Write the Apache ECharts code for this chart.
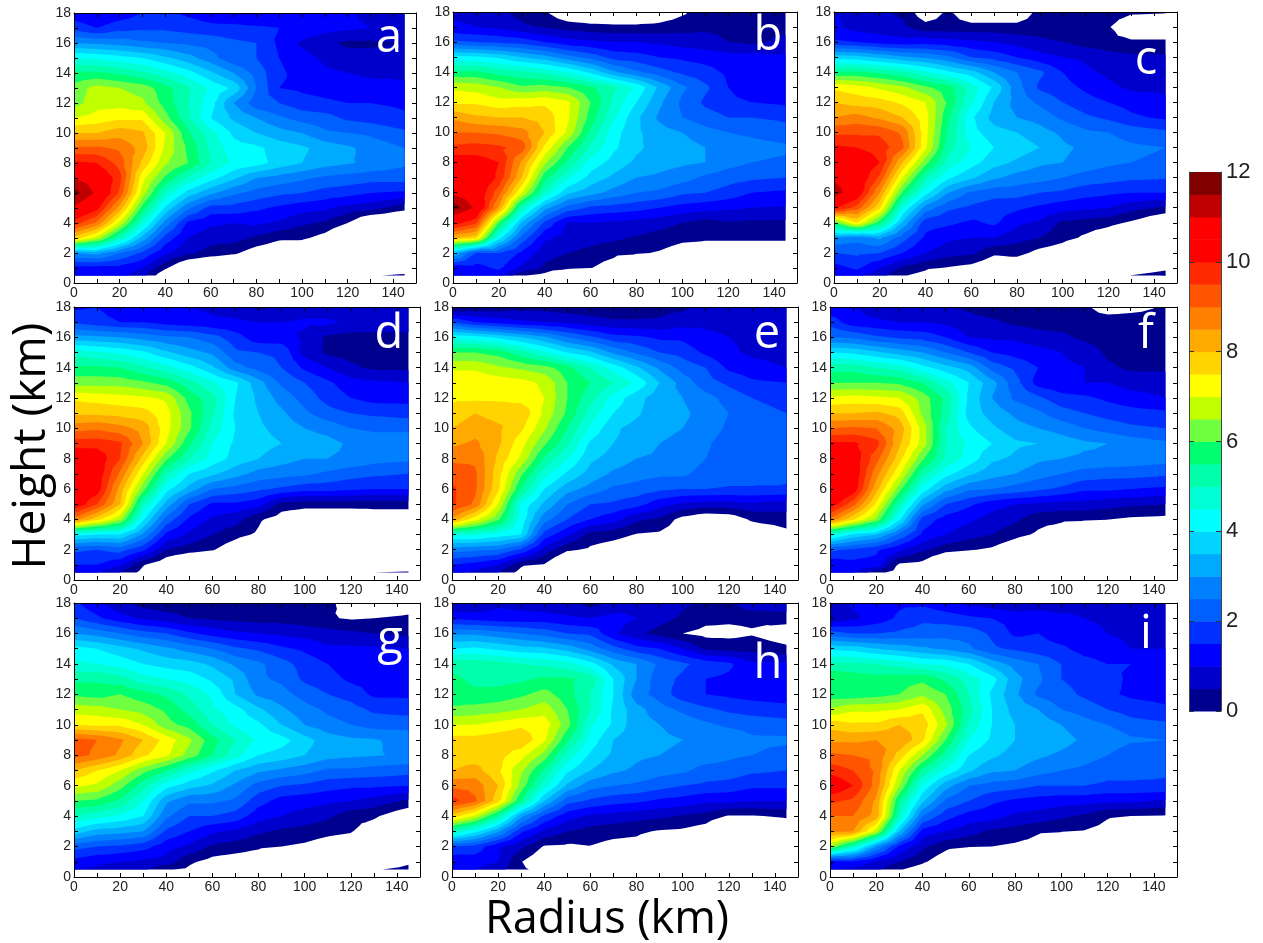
<!DOCTYPE html>
<html><head><meta charset="utf-8">
<style>html,body{margin:0;padding:0;background:#fff}#c{width:1263px;height:943px}</style>
<script src="https://cdn.jsdelivr.net/npm/echarts@6/dist/echarts.min.js"></script>
</head><body><div id="c"></div>
<script>
const radii=[0,10,20,30,40,50,60,70,80,90,100,110,120,130,145];
const heights=[18,17,16,15,14,13,12,11,10,9,8,7,6,5,4,3,2,1,0.5];
const xTicks=[0,10,20,30,40,50,60,70,80,90,100,110,120,130,140,150];
const xLabels=[0,20,40,60,80,100,120,140];
const yTicks=[0,1,2,3,4,5,6,7,8,9,10,11,12,13,14,15,16,17,18];
const yLabels=[0,2,4,6,8,10,12,14,16,18];
const barLabels=[0,2,4,6,8,10,12];
const levels=[0,.5,1,1.5,2,2.5,3,3.5,4,4.5,5,5.5,6,6.5,7,7.5,8,8.5,9,9.5,10,10.5,11,11.5];
const colors=['#00008f','#0000cc','#0000ff','#0030ff','#0060ff','#0080ff','#00aaff','#00d4ff','#00ffff','#00ffd4','#00ffaa','#00ff70','#70ff40','#bfff00','#ffff00','#ffd400','#ffaa00','#ff8000','#ff5500','#ff2a00','#ff0000','#ff0000','#c00000','#800000'];
const panelA=[
[1.2,1.0,1.2,1.5,1.6,1.4,1.1,.9,.9,1,1,1.1,1.1,.8,.8],
[1.8,1.5,1.8,1.9,1.9,1.8,1.7,1.7,1.6,1.5,1.4,1.2,1.1,1,1],
[3,2.9,2.8,2.6,2.5,2.4,2.3,2.1,2.0,1.4,.9,.6,.4,.4,.5],
[4.5,4.4,4.2,4,3.6,3.2,2.7,2.1,2,1.5,1.2,.9,.7,.7,.7],
[5.6,5.6,5.4,5.1,4.7,4.2,3.6,3,2.3,1.6,1.3,1.1,1,.9,.9],
[6.2,6.7,6.5,6.3,5.7,5.1,4.4,3.9,2.5,1.5,1.4,1.3,1.2,1.2,1.1],
[6.3,6.8,6.8,6.6,5.8,5,4.2,3,2.2,2,1.7,1.6,1.5,1.5,1.4],
[7,7.2,7.4,7.4,6.2,5.1,4,3.4,3,2.6,2.3,2.2,1.9,1.8,1.6],
[8,8,8.3,8.1,7,5.6,4.7,3.9,3.5,3.2,3,2.6,2.5,2.4,2.1],
[9.1,9.1,8.9,8.3,6.9,5.9,4.9,4.2,4.1,3.8,3.6,3.3,3.1,2.8,2.5],
[10.1,10,9.3,7.9,6.6,6,5,4.4,4.2,3.8,3.5,3.2,3.05,2.9,2.6],
[11,10.7,9.7,7.2,5.9,4.9,4.2,3.6,3,2.8,2.6,2.4,2.3,2.2,2.2],
[11.7,10.9,9.4,6.8,4.9,3.8,3.1,2.6,2.3,2.1,2,1.8,1.7,1.5,1.4],
[10.9,10.2,8.3,5.8,3.9,2.6,1.8,1.8,1.6,1.4,1.2,1.1,.8,.7,.2],
[9.8,8.9,6.9,4.7,2.8,1.4,1.1,1,1.1,.9,.6,.4,0,-.8,-1],
[7.8,6.8,5,3.3,1.8,1,.7,.7,.4,.1,.1,-.2,-.8,-1,-1],
[3,3.2,2.5,1.9,1.1,.6,.3,.1,-.3,-.5,-.7,-1,-1,-1,-1],
[1.3,1.3,1.3,1,.1,-.8,-1,-1,-1,-1,-1,-1,-1,-1,-.8],
[1.2,1.2,1.2,.7,-.5,-1,-1,-1,-1,-1,-1,-1,-1,-.1,.2]];
const panelB=[
[.9,.8,.6,.3,.05,-.5,-.7,-.7,-.7,-.5,-.1,.3,.4,.4,.4],
[1.1,1,.9,.6,.45,.3,.2,.15,.15,.2,.3,.4,.4,.4,.4],
[2.1,2,1.9,1.8,1.5,1.2,1.1,1,1,.9,.8,.7,.5,.4,.6],
[4.2,4.1,3.9,3.5,3.2,2.7,2.3,1.8,1.7,1.5,1.4,1.3,1.2,1.2,1.1],
[5.6,5.6,5.3,5.1,4.9,4.5,3.9,3.1,2.6,2.2,1.9,1.7,1.4,1.3,1.3],
[6.9,6.8,6.5,6.1,6.2,6,5.6,5.1,4.4,3.4,2.6,2.1,1.5,1,1],
[7.4,7.4,7.2,7.3,7.4,7.1,6,4.9,4,3.1,2.4,1.9,1.7,1.5,1.4],
[8.4,8.1,8,8,7.8,7.1,5.8,4.6,3.6,2.9,2.5,2.2,2,2,1.9],
[9,9,8.9,8.7,8,6.9,5.4,4.2,3.6,3.2,3,2.7,2.5,2.4,2.2],
[9.6,9.7,9.6,9.3,7.4,6,4.9,4.1,3.6,3.3,3.2,3,2.8,2.7,2.6],
[10.4,10.3,10,8.4,6.6,5.4,4.3,3.8,3.4,3.2,3.1,3,2.7,2.5,2.4],
[10.7,10.6,9.9,8,5.7,4.6,3.8,3.4,3,2.9,2.7,2.4,2.2,2.1,2],
[10.9,10.6,9.2,7,4.9,3.6,3.2,2.8,2.5,2.4,2.1,2,1.8,1.5,1.4],
[11.8,10.9,8.4,5,3.2,2.3,1.9,1.8,1.7,1.5,1.3,1.2,1.1,1,.95],
[10.3,9.6,6,3.4,1.9,.95,1,.9,.8,.7,.5,.3,.45,.4,.4],
[8.1,7.7,4.2,2.3,1.1,.8,.7,.6,.45,.3,.15,.1,.1,.1,.1],
[3.5,2,2,1.4,.7,.5,.35,.15,.07,-.05,-.3,-.4,-.4,-.4,-.4],
[1.2,1.3,1.6,.9,.4,.15,.02,-.3,-1,-1,-1,-1,-1,-1,-1],
[1.1,1.2,1.2,.05,-.2,-1,-1,-1,-1,-1,-1,-1,-1,-1,-1]];
const panelC=[
[1,.9,.6,.4,-.4,.1,-.5,-.5,-.5,.2,.3,.3,.3,.1,.05],
[1.1,.8,.7,.6,.2,.2,.2,.2,.2,.3,.2,.2,.05,-.5,-.5],
[1.6,1.5,1.3,1.2,1.3,1.2,1.1,1,.8,.6,.5,.3,.2,.1,.1],
[3.8,3.7,3.4,3.1,2.9,2.6,2,1.8,1.5,1.2,1,.9,.7,.6,.6],
[5.6,5.6,5.4,5.1,4.6,4.1,3.7,3,2.5,2.1,1.5,1.1,.9,.8,.8],
[7.4,7.2,6.9,6.6,6.1,5.7,4.8,3.9,2.7,1.9,1.7,1.4,1.1,.9,.9],
[8,7.8,7.7,7.4,7,5.9,4.6,3.5,2.8,2.4,2,1.7,1.5,1.3,1.1],
[8.5,8.7,8.4,8,7.2,5.6,4.1,3.3,3,2.8,2.4,2.1,1.9,1.6,1.4],
[9.4,9.4,9.4,8.9,7.2,5.4,4.2,3.7,3.5,3.2,2.9,2.6,2.5,2.3,2.1],
[10.1,10,9.8,9.1,7.1,5.2,4.5,4,3.8,3.5,3.1,2.9,2.7,2.6,2.5],
[10.4,10.5,10,8,6.2,4.8,4.2,3.7,3.4,3.1,3,2.8,2.6,2.5,2.4],
[10.9,10.6,9.4,7,5.1,4.1,3.6,3.1,2.8,2.7,2.5,2.3,2.2,2.1,2.05],
[11.3,10.5,8.5,5.9,4.2,3,2.4,2.2,2.2,2,1.9,1.7,1.6,1.5,1.5],
[10.1,9.3,7.6,4.5,2.8,2.1,1.9,1.7,1.6,1.4,1.2,1.1,1,.7,.4],
[6,7.5,5.7,3.4,1.7,1.6,1.4,1.6,1.1,.9,.4,.3,.2,-.1,-.7],
[2.9,2.7,3.1,2.2,1.4,1.1,1,1,.7,.5,.2,-.1,-.5,-1,-1],
[2,2.1,2,1.5,1,.7,.6,.1,.2,-.2,-.4,-1,-1,-1,-1],
[1.3,1.6,1,.4,.1,-.05,-.2,-.5,-.6,-1,-1,-1,-1,-1,-.3],
[1.1,1.1,.7,.05,-.2,-1,-1,-1,-1,-1,-1,-1,-.3,.02,.6]];
const panelD=[
[1.4,1.5,1.2,1,1,1,.9,.7,.4,.5,.7,.7,.6,.5,.5],
[1.9,1.7,1.5,1.5,1.3,1.2,1.1,1.1,1,1,1.1,1.1,.9,.9,.9],
[3.2,3.1,3,2.8,2.6,2.5,2.2,1.7,1.2,1.2,.9,.4,.3,.3,.3],
[4.8,4.6,4.4,4.1,3.6,3.2,2.9,2.1,2,1.9,.8,.4,.3,.3,.3],
[5.6,5.6,5.5,5.1,4.7,4.2,3.6,2.7,2.3,2,1.4,1,.6,.4,.4],
[6.3,6.3,6.3,6.1,5.8,5.2,4.6,4.1,3.2,2.4,2,1.6,1.2,1.1,1],
[7.4,7.3,7.2,7.1,6.9,5.8,5.2,4,3.4,2.8,2.3,1.8,1.5,1.3,1.3],
[7.9,7.9,7.8,7.7,7.2,6.1,5.1,3.9,3.5,3.1,2.6,2.2,2,1.9,1.8],
[8.8,8.9,8.7,8.3,7.2,6.1,4.8,4,3.6,3.3,3,2.8,2.5,2.4,2.4],
[9.8,9.8,9.6,8.5,7,5.6,4.5,3.9,3.7,3.5,3.3,3.2,2.9,2.8,2.8],
[10.5,10.4,9.5,7.8,6.1,5,4.3,3.8,3.5,3.2,3,3,2.9,2.7,2.6],
[10.7,10.4,8.9,7,5.1,4,3.6,3.2,2.8,2.7,2.6,2.4,2.2,2.1,2],
[10.7,10.3,8.3,6.2,4.2,3.3,2.5,2.3,2.1,1.9,1.7,1.7,1.6,1.5,1.5],
[10.5,9.5,8,5,3.3,2,1.4,1.4,1.2,.3,.2,.2,.2,.2,.2],
[8.8,7.7,6.6,4.1,2.3,1.4,.9,.7,.1,-.3,-.5,-.5,-.5,-.4,-.4],
[4.2,4,4,2.9,1.4,.9,.5,.2,-.1,-.8,-1,-1,-1,-1,-1],
[2.1,2,2.2,1.6,.5,.25,.05,-.4,-1,-1,-1,-1,-1,-1,-1],
[1.5,1.5,1.1,.05,-.5,-1,-1,-1,-1,-1,-1,-1,-1,-.8,-.8],
[1.1,1,.5,-.2,-1,-1,-1,-1,-1,-1,-1,-1,-1,0,.1]];
const panelE=[
[-.1,.1,.2,.3,.3,.2,.2,.1,.1,.3,.4,.6,.7,.7,.7],
[2,1.5,1.3,1.1,1,.9,.7,.6,.6,.6,.8,.9,.9,.9,.9],
[4.4,4.2,3.9,3.5,3.1,2.5,2.1,1.7,1.6,1.4,1.4,1.1,1,.9,.9],
[6,6,5.8,5.2,4.6,4,3.6,2.9,2.4,2,1.8,1.4,1.1,.9,.8],
[6.9,6.9,6.6,6.4,6.2,5.7,5,4.3,3.6,2.9,2.3,2,1.4,1.2,1],
[7.5,7.4,7.3,7.2,6.9,6,5.5,5,4.4,3.5,2.8,2.2,1.9,1.6,1.5],
[7.4,7.4,7.4,7.3,7,6,5.2,4.3,3.7,3.2,3,2.7,2.3,2,1.9],
[7.7,8,7.8,7.9,6.9,5.9,4.8,4,3.6,3.1,3.1,2.8,2.5,2.1,2],
[8,8.3,8.1,7.6,6.6,5.5,4.4,3.6,3.3,3.1,3,2.8,2.4,2.2,2.1],
[8.4,8.6,8.1,7.2,6.1,5.1,3.9,3.5,3.3,3,2.9,2.6,2.2,2.2,2.1],
[8.9,8.9,7.9,6.9,5.4,4.5,3.6,3.3,3,2.9,2.8,2.5,2.2,2.1,2.1],
[9.3,9.1,7.7,6.1,4.7,3.9,3.3,2.9,2.7,2.6,2.6,2.3,2.2,2.2,2.1],
[9.6,9.1,7.6,5.5,4,3.2,2.8,2.4,2.3,2.1,2,2,1.95,1.95,1.95],
[9.6,8.9,7,4.4,3.4,2.5,2,1.9,1.7,1.2,.9,.8,.8,.9,.7],
[8.4,7.2,6.1,4.3,2.7,2,1.5,1.2,.6,.4,-.2,-.5,-.4,.1,.3],
[4.6,4.6,4.3,4,1.8,1.1,.3,.2,-.03,-.1,-.4,-.9,-.9,-.6,-.2],
[2.7,2.6,2.5,1.9,.8,.1,-.1,-.3,-.5,-1,-1,-1,-1,-1,-1],
[1.5,1.3,1,.1,-.05,-1,-1,-1,-1,-1,-1,-1,-1,-1,-1],
[1.1,.9,.5,-.2,-1,-1,-1,-1,-1,-1,-1,-1,-1,-1,-1]];
const panelF=[
[1.1,1,.7,.6,.5,.5,.4,.2,.1,.1,.1,.1,-.3,-.2,.05],
[1.8,1.2,1.1,1,1,.9,.7,.6,.4,.3,.3,.3,.3,.3,.3],
[2.5,2.4,2.1,1.9,1.8,1.5,1,.9,.9,.7,.6,.4,.3,.2,.2],
[4,3.9,3.6,3.3,3,2.5,2,1.5,1.3,1.2,1,.8,.4,.3,.3],
[5.3,5.3,5,4.8,4.2,3.7,3.3,2.3,1.9,1.5,1.1,1,.6,.4,.4],
[6,6,6,5.9,5.5,4.7,4,3.2,2.2,1.3,1.1,1,1,.8,.8],
[7.1,7.2,7.1,7,6.3,5.4,3.9,3,2.4,2.1,1.7,1.6,1.4,1.2,1],
[8,8,8.1,7.8,6.4,5.3,3.8,3.3,2.9,2.6,2.2,2,1.8,1.7,1.6],
[9,9.1,9,8.3,6.8,5,4.1,3.6,3.2,3,2.8,2.5,2.3,2.1,2],
[10.1,10.1,9.7,8.1,6.8,5,4.4,4,3.6,3.5,3.3,3.1,3,2.8,2.6],
[10.6,10.4,9.2,7.7,6.1,4.9,4.3,3.6,3.4,3.1,3,2.9,2.9,2.8,2.7],
[10.6,10.5,8.7,7.1,5.2,4.2,3.6,3.2,3,2.7,2.5,2.3,2.2,2.2,2.1],
[11,10.4,8.2,6.2,4.3,3.2,2.6,2.5,2.3,2.1,1.9,1.6,1.6,1.5,1.4],
[10.4,9.2,7.4,5.1,3.1,2,1.6,1.2,1,.9,.8,.8,.7,.6,.5],
[8.9,7.6,6.4,4.1,1.8,1.3,1.1,.8,.6,.2,.12,.08,.02,-.1,-.15],
[4.7,3.9,3.5,2.4,1.4,1,.7,.5,.2,-.1,-.4,-1,-1,-1,-1],
[2.1,1.9,1.6,1.1,.6,.2,.05,-.1,-.5,-1,-1,-1,-1,-1,-1],
[1.1,1.3,1.3,-.1,-.2,-1,-1,-1,-1,-1,-1,-1,-1,-1,-1],
[1.1,1,.2,-.3,-1,-1,-1,-1,-1,-1,-1,-1,-1,-1,-1]];
const panelG=[
[1.6,1.1,.6,.3,.2,.2,.1,.1,.1,.1,.05,.1,-.2,-.5,-.3],
[2,1.6,1.2,.9,.7,.5,.4,.35,.3,.3,.2,.05,-.05,0,.1],
[3,2.8,2.5,2.2,2,1.6,1.3,1.1,1,.9,.8,.7,.6,.5,.4],
[4.2,4,3.7,3.4,3.1,2.8,2.5,2.1,1.9,1.6,1.4,1.1,1.1,1.1,1],
[4.6,4.5,4.3,4,3.8,3.7,3.4,2.9,2.6,2.2,1.8,1.5,1.2,1.1,1],
[5.4,5.4,5.2,4.7,4.5,4.3,3.9,3.4,2.6,2.4,1.9,1.7,1.4,1.3,1.2],
[5.9,5.8,6,5.7,5.4,4.9,4.4,3.5,2.9,2.7,2.3,2,1.8,1.4,1.4],
[6.8,6.7,6.5,6.3,5.9,5.3,4.6,4.2,3.6,3.1,2.7,2.4,2.2,1.9,1.8],
[7.5,7.4,7.4,7,6.2,5.8,5,4.4,4.1,3.5,3,2.7,2.5,2.3,2.3],
[9.2,9,8.6,8,7.3,6.6,5.7,5,4.4,4.2,3.7,3.25,3.1,3.05,2.8],
[9.2,8.9,8.4,7.6,7.1,6.3,5.5,4.7,4,3.8,3.5,3.2,3.1,3.05,2.9],
[8,7.5,7,6.2,5.5,4.7,4.1,3.5,3.1,2.9,2.7,2.4,2.4,2.3,2.2],
[7.1,6.9,6.2,5.2,4.2,3.7,3.4,2.9,2.3,2,1.9,1.7,1.6,1.6,1.5],
[6,5.9,5.4,4.5,3.1,2.6,2.6,2.4,1.7,1.3,1.2,1.1,1,.8,.4],
[5,4.7,4.4,4,2.6,2,2,1.8,1.2,1,.8,.6,.2,.1,-.5],
[3.8,3.3,3.2,3,1.9,1.5,1.1,.9,.6,.4,.3,.15,.05,-.4,-1],
[2.2,2,1.9,1.7,1.2,.9,.4,.25,.1,0,-.1,-.3,-.4,-1,-1],
[1.3,1.1,1,.9,.8,.1,-.2,-.3,-.4,-1,-1,-1,-1,-1,-.2],
[1,.9,.7,.6,.05,-.1,-.5,-1,-1,-1,-1,-1,-1,-.1,.3]];
const panelH=[
[.4,.5,.9,.8,.7,.6,.3,.6,.9,.9,.6,.4,.4,.9,.9],
[1.4,1.3,1.2,1.2,1.2,1.1,1,1.2,1,.7,.4,.15,.1,.1,.2],
[2.9,2.9,2.7,2.5,2.3,2,1.9,1.1,.6,.3,0,-.15,-.15,-.05,-.3],
[4,4.1,3.9,3.7,3.6,3.3,2.8,2.2,1.7,1.5,1,.4,.3,.3,.1],
[5.3,5.3,5.2,5,4.9,4.7,4.2,3.4,3,2.4,2.1,1.8,1.6,1.1,1.1],
[5.6,5.4,5.3,5.4,5.6,5.6,5.3,4,3,2.2,1.9,1.5,1.4,1.2,1.2],
[5.7,5.6,5.7,5.9,6.2,5.7,5,4,2.7,2.3,1.7,1.5,1.4,1.3,1.2],
[6.1,6.2,6.3,6.5,6.8,6,5,3.9,3.2,2.7,2.4,2.1,1.9,1.8,1.7],
[7,7,7.2,7.4,7.3,6.2,4.6,3.9,3.2,3,2.8,2.6,2.4,2.3,2.2],
[7.7,7.7,7.8,7.9,7.1,5.6,4.3,3.5,3.2,3.1,3,2.9,2.9,2.6,2.6],
[7.8,7.7,7.7,7.2,6.3,4.8,3.9,3.4,3.1,3,2.9,2.8,2.6,2.5,2.3],
[8,8.2,7.6,6.6,5.4,4.1,3.5,3.1,2.9,2.7,2.6,2.3,2.3,2.1,2],
[8.9,8.8,8,6.3,4.7,3.4,2.7,2.5,2.4,2.2,2,1.9,1.8,1.6,1.6],
[9.7,9.1,7.7,5.5,3.5,2.2,1.9,1.7,1.6,1.4,1.3,1.1,1.1,1,1],
[7.8,6.9,5.3,3.1,1.9,1.2,.9,.8,.7,.6,.45,.3,-.05,-.05,.1],
[5,4.2,3.1,1.6,.9,.5,.3,.2,.1,-.05,-.1,-.3,-1,-1,-.6],
[2,1.8,1.1,.6,-.05,-.1,-.02,-.2,-.2,-.5,-1,-1,-1,-1,-1],
[1.1,1.2,1,.02,-.5,-1,-1,-1,-1,-1,-1,-1,-1,-1,-1],
[1.1,1,.7,.1,-.2,-1,-1,-1,-1,-1,-1,-1,-1,-1,-1]];
const panelI=[
[.4,1.1,1.2,1.4,1.4,1.1,.9,.7,.6,.7,.8,.9,.7,.6,.7],
[.6,.9,1.2,1.6,1.9,1.8,1.6,1.5,1.3,1.3,1.1,1,.9,.9,.9],
[2.2,2,2,2.1,2.2,2.3,2.3,1.9,1.4,1.5,1.2,1.2,1,.9,.9],
[3.9,3.8,3.5,3.3,3.1,2.9,2.6,2.1,1.9,1.7,1.6,1.3,1.2,1,1],
[5.1,5.1,5,4.8,4.5,4.4,4,3.3,2.8,2.5,2,1.7,1.5,1.5,1.1],
[6,5.8,5.7,5.8,5.9,5.4,4.8,4.2,3.2,2.6,2,1.8,1.7,1.4,1.2],
[5.7,5.7,5.8,6,6.4,6,5,3.9,3.1,2.4,2.2,1.9,1.6,1.4,1.3],
[6.6,6.9,6.9,7,7.4,6.3,5.2,4,3.3,3,2.5,2.3,2,1.8,1.6],
[7.8,7.6,7.6,8,7.8,6.6,4.9,4,3.5,3.3,3,2.7,2.5,2.2,2.1],
[8.4,8.4,8.5,8.5,7.6,6,4.5,3.9,3.5,3.4,3.2,2.9,2.9,2.6,2.5],
[9.1,9,8.9,7.8,6.5,5.2,4,3.6,3.3,3.1,2.9,2.7,2.5,2.1,2.1],
[9.8,9.5,8.9,7,5.4,4.4,3.6,3.1,3,2.7,2.5,2.4,2.2,2.2,2.1],
[10.6,10,8.8,6.5,4.4,3.2,2.5,2.3,2.2,2,2,2,1.9,1.9,1.9],
[9.6,9.4,8.4,5.5,3.6,2.4,2,1.6,1.4,1.3,1.2,1.2,1.1,1.1,.9],
[9,9,8.3,5,2.5,1.7,1.3,1.2,.9,.8,.6,.4,.05,0,-.05],
[8.7,8.5,6.8,3.5,1.3,1,.7,.4,.3,.05,.02,-.03,-.2,-.5,-1],
[6.5,5,3,1.4,.6,.15,.03,0,-.1,-.2,-.5,-1,-1,-1,-1],
[1.3,1.4,.9,.5,.1,-.4,-1,-1,-1,-1,-1,-1,-1,-1,-1],
[1,.9,.6,.05,-.3,-1,-1,-1,-1,-1,-1,-1,-1,-1,-1]];
const panels=[panelA,panelB,panelC,panelD,panelE,panelF,panelG,panelH,panelI];
const letters=['a','b','c','d','e','f','g','h','i'];

const boxes=[[74,13,342,270],[453,12,344,271],[834,12,343,271],
[74,307,346,273],[452,307,346,273],[830,307,347,273],
[74,603,346,274],[452,603,346,274],[830,603,347,274]];
const letterPos=[[389,39],[768,37],[1146,61],[389,335],[767,335],[1146,335],[390,641],[768,665],[1146,635]];
const FONT='"Liberation Sans"';
const LBL='"Open Sans"';

function clipTri(t,L){
  const out=[];
  for(let i=0;i<3;i++){
    const a=t[i],b=t[(i+1)%3];
    if(a[2]>=L)out.push(a);
    if((a[2]>=L)!==(b[2]>=L)){
      const f=(L-a[2])/(b[2]-a[2]);
      out.push([a[0]+(b[0]-a[0])*f,a[1]+(b[1]-a[1])*f,L]);
    }
  }
  return out;
}
function bandPath(field,L,api){
  let d='';
  const add=t=>{
    const p=clipTri(t,L);
    if(p.length<3)return;
    d+='M'+p.map(q=>q[0].toFixed(2)+' '+q[1].toFixed(2)).join('L')+'Z';
  };
  for(let i=0;i<heights.length-1;i++){
    for(let j=0;j<radii.length-1;j++){
      const v=[field[i][j],field[i][j+1],field[i+1][j+1],field[i+1][j]];
      const c=api.coord;
      const p=[[radii[j],heights[i]],[radii[j+1],heights[i]],[radii[j+1],heights[i+1]],[radii[j],heights[i+1]]]
        .map((q,k)=>{const s=c(q);return [s[0],s[1],v[k]];});
      const m=c([(radii[j]+radii[j+1])/2,(heights[i]+heights[i+1])/2]);
      const ctr=[m[0],m[1],(v[0]+v[1]+v[2]+v[3])/4];
      for(let k=0;k<4;k++)add([p[k],p[(k+1)%4],ctr]);
    }
  }
  return d;
}
const grid=[],xAxis=[],yAxis=[],series=[],graphic=[];
const line={show:true,onZero:false,lineStyle:{color:'#000',width:1}};
panels.forEach((field,n)=>{
  const b=boxes[n];
  grid.push({left:b[0],top:b[1],width:b[2],height:b[3]});
  const ax=n*2;
  ['bottom','top'].forEach((pos,k)=>xAxis.push({type:'value',gridIndex:n,position:pos,min:0,max:150,z:10,
    axisLine:line,splitLine:{show:false},
    axisTick:{show:true,inside:true,length:4,lineStyle:{color:'#000'},customValues:xTicks},
    axisLabel:k?{show:false}:{show:true,margin:3,fontFamily:FONT,fontSize:14,color:'#222',customValues:xLabels}}));
  ['left','right'].forEach((pos,k)=>yAxis.push({type:'value',gridIndex:n,position:pos,min:0,max:18,z:10,
    axisLine:line,splitLine:{show:false},
    axisTick:{show:true,inside:true,length:4,lineStyle:{color:'#000'},customValues:yTicks},
    axisLabel:k?{show:false}:{show:true,margin:3,fontFamily:FONT,fontSize:14,color:'#222',customValues:yLabels}}));
  series.push({type:'custom',coordinateSystem:'cartesian2d',xAxisIndex:ax,yAxisIndex:ax,silent:true,animation:false,z:1,
    data:levels.map(l=>[0,l]),
    renderItem:(params,api)=>({type:'path',shape:{pathData:bandPath(field,levels[params.dataIndex],api)||'M0 0Z'},
      style:{fill:colors[params.dataIndex]}})});
  graphic.push({type:'text',z:20,x:letterPos[n][0],y:letterPos[n][1],silent:true,
    style:{text:letters[n],fill:'#fff',font:'47px '+LBL,textAlign:'center',textVerticalAlign:'middle'}});
});
// colour bar
const cb=panels.length;
grid.push({left:1189,top:172,width:32,height:539});
xAxis.push({type:'value',gridIndex:cb,min:0,max:1,position:'bottom',axisLine:{show:false},axisTick:{show:false},axisLabel:{show:false},splitLine:{show:false}});
yAxis.push({type:'value',gridIndex:cb,min:0,max:12,interval:2,position:'right',z:10,
  axisLine:{show:true,onZero:false,lineStyle:{color:'#444'}},splitLine:{show:false},
  axisTick:{show:true,inside:true,length:5,lineStyle:{color:'#333'}},
  axisLabel:{show:true,margin:5,fontFamily:FONT,fontSize:22,color:'#222',customValues:barLabels}});
yAxis.push({type:'value',gridIndex:cb,min:0,max:12,interval:2,position:'left',z:10,
  axisLine:{show:true,onZero:false,lineStyle:{color:'#444'}},splitLine:{show:false},
  axisTick:{show:true,inside:true,length:5,lineStyle:{color:'#333'}},axisLabel:{show:false}});
series.push({type:'custom',coordinateSystem:'cartesian2d',xAxisIndex:xAxis.length-1,yAxisIndex:yAxis.length-2,silent:true,animation:false,z:1,
  data:levels.map(l=>[0,l]),
  renderItem:(params,api)=>{
    const lo=levels[params.dataIndex];
    const a=api.coord([0,lo+.5]),c=api.coord([1,lo]);
    return {type:'rect',shape:{x:a[0],y:a[1],width:c[0]-a[0],height:c[1]-a[1]+.5},style:{fill:colors[params.dataIndex]}};
  }});
graphic.push({type:'text',z:20,x:32,y:446,rotation:Math.PI/2,silent:true,
  style:{text:'Height (km)',fill:'#000',font:'46px '+LBL,textAlign:'center',textVerticalAlign:'middle'}});
graphic.push({type:'text',z:20,x:607,y:920,silent:true,
  style:{text:'Radius (km)',fill:'#000',font:'45px '+LBL,textAlign:'center',textVerticalAlign:'middle'}});
const chart=echarts.init(document.getElementById('c'),null,{renderer:'canvas'});
chart.setOption({animation:false,backgroundColor:'#fff',grid,xAxis,yAxis,series,graphic});
</script></body></html>
